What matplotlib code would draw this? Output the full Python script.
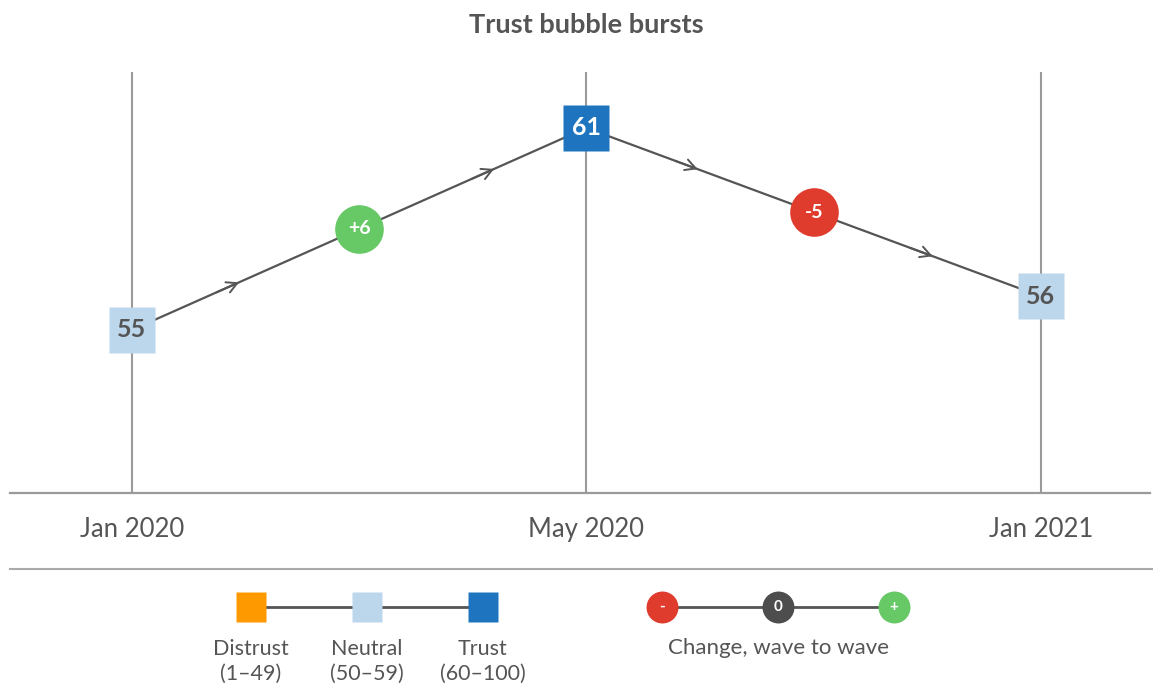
import numpy as np
import matplotlib
matplotlib.use("Agg")
import matplotlib.pyplot as plt

# ── Data ──────────────────────────────────────────────────────────────────────

waves = ["Jan 2020", "May 2020", "Jan 2021"]
scores = [55, 61, 56]
changes = ["+6", "-5"]

legend_bands = ["Distrust\n(1–49)", "Neutral\n(50–59)", "Trust\n(60–100)"]
legend_change = ["-", "0", "+"]

# ── Style ─────────────────────────────────────────────────────────────────────

GREY_TXT = "#555555"
GRID = "#9a9a9a"
LINE = "#555555"
ORANGE = "#ff9900"
LIGHT_BLUE = "#bcd7ec"
DARK_BLUE = "#1f74c0"
RED = "#e03c2e"
GREEN = "#66c966"
DARK = "#4d4d4d"

# where the chevrons sit along each segment (fraction of its length)
CHEVRON_POS = [(0.236, 0.797), (0.245, 0.762)]

plt.rcParams["font.family"] = ["Lato", "DejaVu Sans"]

W, H = 1153, 684
fig = plt.figure(figsize=(W / 100, H / 100), dpi=100)


def band_color(v):
    if v < 50:
        return ORANGE
    if v < 60:
        return LIGHT_BLUE
    return DARK_BLUE


def change_color(s):
    if s.startswith("-"):
        return RED
    if s.startswith("+"):
        return GREEN
    return DARK


# ── Main chart ────────────────────────────────────────────────────────────────

ax = fig.add_axes([10 / W, (H - 493) / H, 1140 / W, 421 / H])
x = np.arange(len(waves))
YMIN = 50.16
ax.set_xlim(-0.268, 2.24)
ax.set_ylim(YMIN, 62.66)
for s in ax.spines.values():
    s.set_visible(False)
ax.set_yticks([])
ax.set_xticks([])

for xi in x:
    ax.axvline(xi, color=GRID, lw=1.5, zorder=1)
ax.axhline(YMIN, color=GRID, lw=1.6, zorder=1, clip_on=False)

ax.plot(x, scores, color=LINE, lw=1.6, zorder=2)

# open chevrons along each segment
for i in range(len(x) - 1):
    x0, y0, x1, y1 = x[i], scores[i], x[i + 1], scores[i + 1]
    for f in CHEVRON_POS[i]:
        xa, ya = x0 + f * (x1 - x0), y0 + f * (y1 - y0)
        xb, yb = x0 + (f - 0.05) * (x1 - x0), y0 + (f - 0.05) * (y1 - y0)
        ax.annotate("", xy=(xa, ya), xytext=(xb, yb),
                    arrowprops=dict(arrowstyle="->,head_length=0.75,head_width=0.4",
                                    color=LINE, lw=1.4, shrinkA=0, shrinkB=0),
                    zorder=3)

    # change bubble at segment midpoint
    xm, ym = (x0 + x1) / 2, (y0 + y1) / 2
    ax.plot(xm, ym, "o", ms=35, color=change_color(changes[i]), mec="none", zorder=4)
    ax.text(xm, ym, changes[i], ha="center", va="center", color="white",
            fontsize=14, fontweight="bold", zorder=5)

for xi, v in zip(x, scores):
    c = band_color(v)
    ax.plot(xi, v, "s", ms=33, color=c, mec="none", zorder=4)
    ax.text(xi, v, str(v), ha="center", va="center", fontsize=18, fontweight="bold",
            color="white" if c == DARK_BLUE else GREY_TXT, zorder=5)

for xi, lab in zip(x, waves):
    ax.text(xi, YMIN - 0.72, lab, ha="center", va="top", fontsize=18.5, color=GREY_TXT)

fig.text(586 / W, 1 - 25 / H, "Trust bubble bursts", ha="center", va="center",
         fontsize=19.5, fontweight="bold", color=GREY_TXT)

# ── Legend ────────────────────────────────────────────────────────────────────

lg = fig.add_axes([0, 0, 1, 1], facecolor="none")
lg.set_xlim(0, W)
lg.set_ylim(H, 0)
lg.axis("off")

lg.plot([10, W], [569, 569], color="#aaaaaa", lw=1.5)

band_vals = [40, 55, 80]
band_x = [251, 367, 483]
lg.plot([band_x[0], band_x[-1]], [607, 607], color=LINE, lw=2, zorder=1)
for bx, bv, lab in zip(band_x, band_vals, legend_bands):
    lg.plot(bx, 607, "s", ms=22, color=band_color(bv), mec="none", zorder=2)
    lg.text(bx, 661, lab, ha="center", va="center", fontsize=15.5, color=GREY_TXT,
            linespacing=1.3)

chg_x = [662, 778, 894]
lg.plot([chg_x[0], chg_x[-1]], [607, 607], color=LINE, lw=2, zorder=1)
for cx, s in zip(chg_x, legend_change):
    lg.plot(cx, 607, "o", ms=23, color=change_color(s), mec="none", zorder=2)
    lg.text(cx, 607, s, ha="center", va="center", fontsize=11, fontweight="bold",
            color="white", zorder=3)
lg.text(chg_x[1], 648, "Change, wave to wave", ha="center", va="center",
        fontsize=16, color=GREY_TXT)

fig.savefig("out.png", dpi=100)
